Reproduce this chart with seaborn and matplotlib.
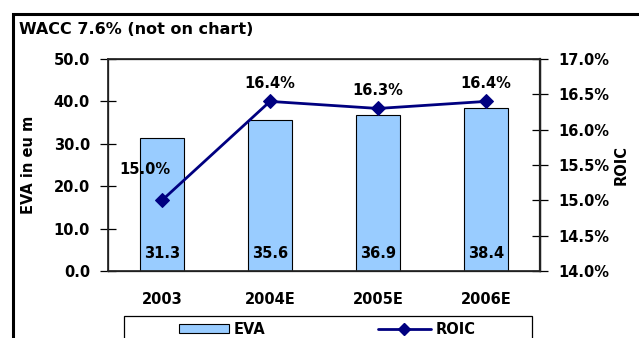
import matplotlib
matplotlib.use("Agg")
import matplotlib.pyplot as plt
import matplotlib.patches as mpatches
import seaborn as sns
import pandas as pd

# Data
years = ["2003", "2004E", "2005E", "2006E"]
eva = [31.3, 35.6, 36.9, 38.4]
roic = [15.0, 16.4, 16.3, 16.4]
eva_ticks = [0, 10, 20, 30, 40, 50]
roic_ticks = [14.0, 14.5, 15.0, 15.5, 16.0, 16.5, 17.0]

df = pd.DataFrame({"year": years, "EVA": eva, "ROIC": roic})

sns.set_theme(style="white")
plt.rcParams["font.family"] = ["DejaVu Sans"]
plt.rcParams["font.weight"] = "bold"
plt.rcParams["text.color"] = "black"
plt.rcParams["axes.labelcolor"] = "black"
plt.rcParams["xtick.color"] = "black"
plt.rcParams["ytick.color"] = "black"

W, H = 639, 338
fig = plt.figure(figsize=(W / 100, H / 100), dpi=100)
fig.patch.set_facecolor("white")

def fx(px):
    return px / W

def fy(py):
    return 1 - py / H

ax = fig.add_axes([fx(108), fy(271), fx(540) - fx(108), fy(59) - fy(271)])
ax.set_facecolor("white")

bar_color = "#99CCFF"
line_color = "#000080"
fs = 10.5

sns.barplot(data=df, x="year", y="EVA", ax=ax, color=bar_color,
            edgecolor="black", linewidth=0.8, width=0.41, saturation=1)
ax.set_ylim(0, 50)
ax.set_xlim(-0.5, 3.5)
ax.set_yticks(eva_ticks)
ax.set_yticklabels([f"{v:.1f}" for v in eva_ticks], fontsize=fs, fontweight="bold")
ax.set_xticks(range(len(years)))
ax.set_xticklabels(years, fontsize=fs, fontweight="bold")
ax.tick_params(axis="x", which="major", length=0, pad=15)
ax.set_xticks([i - 0.5 for i in range(len(years) + 1)], minor=True)
ax.tick_params(axis="x", which="minor", direction="inout", length=12, width=0.9, color="black")
ax.tick_params(axis="y", direction="inout", length=12, width=0.9, color="black", pad=7)
ax.set_xlabel("")
ax.set_ylabel("EVA in eu m", fontsize=fs, fontweight="bold", labelpad=13)
for s in ["left", "bottom", "top", "right"]:
    ax.spines[s].set_visible(True)
    ax.spines[s].set_color("black")
    ax.spines[s].set_linewidth(0.9)

for i, v in enumerate(eva):
    ax.text(i, 4.2, f"{v:.1f}", ha="center", va="center",
            fontsize=fs, fontweight="bold", color="black")

ax2 = ax.twinx()
sns.lineplot(data=df, x="year", y="ROIC", ax=ax2, color=line_color,
             linewidth=2, marker="D", markersize=7, markeredgecolor=line_color,
             sort=False)
ax2.set_ylim(14.0, 17.0)
ax2.set_xlim(-0.5, 3.5)
ax2.set_yticks(roic_ticks)
ax2.set_yticklabels([f"{v:.1f}%" for v in roic_ticks], fontsize=fs, fontweight="bold")
ax2.tick_params(axis="y", direction="inout", length=12, width=0.9, color="black", pad=7)
ax2.set_xlabel("")
ax2.set_ylabel("ROIC", fontsize=fs, fontweight="bold", labelpad=3)
ax2.spines["right"].set_linewidth(1.6)
ax2.spines["right"].set_color("#222222")

for i, v in enumerate(roic):
    if i == 0:
        ax2.text(i - 0.16, v + 0.43, f"{v:.1f}%", ha="center", va="center",
                 fontsize=fs, fontweight="bold")
    else:
        ax2.text(i, v + 0.26, f"{v:.1f}%", ha="center", va="center",
                 fontsize=fs, fontweight="bold")

# Title
fig.text(fx(19), fy(29), "WACC 7.6% (not on chart)", ha="left", va="center",
         fontsize=11.5, fontweight="bold")

# Outer frame
frame = mpatches.Rectangle((fx(13), fy(360)), fx(700), fy(14) - fy(360),
                           transform=fig.transFigure, fill=False,
                           edgecolor="black", linewidth=2.2, zorder=10)
fig.add_artist(frame)

# Legend box
legend_box = mpatches.Rectangle((fx(124), fy(360)), fx(532) - fx(124), fy(316) - fy(360),
                                transform=fig.transFigure, fill=True, facecolor="white",
                                edgecolor="black", linewidth=0.9, zorder=5)
fig.add_artist(legend_box)

eva_handle = mpatches.Patch(facecolor=bar_color, edgecolor="black", linewidth=0.8, label="EVA")
roic_handle = plt.Line2D([], [], color=line_color, linewidth=2, marker="D",
                         markersize=6, label="ROIC")

leg_kw = dict(loc="center left", frameon=False, prop={"size": fs, "weight": "bold"},
              handletextpad=0.35, borderpad=0, borderaxespad=0, handleheight=0.6)
leg1 = fig.legend(handles=[eva_handle], bbox_to_anchor=(fx(179), fy(329)),
                  handlelength=3.4, **leg_kw)
leg1.set_zorder(6)
leg2 = fig.legend(handles=[roic_handle], bbox_to_anchor=(fx(378), fy(329)),
                  handlelength=3.6, **leg_kw)
leg2.set_zorder(6)

fig.savefig("out.png", dpi=100, facecolor="white")
